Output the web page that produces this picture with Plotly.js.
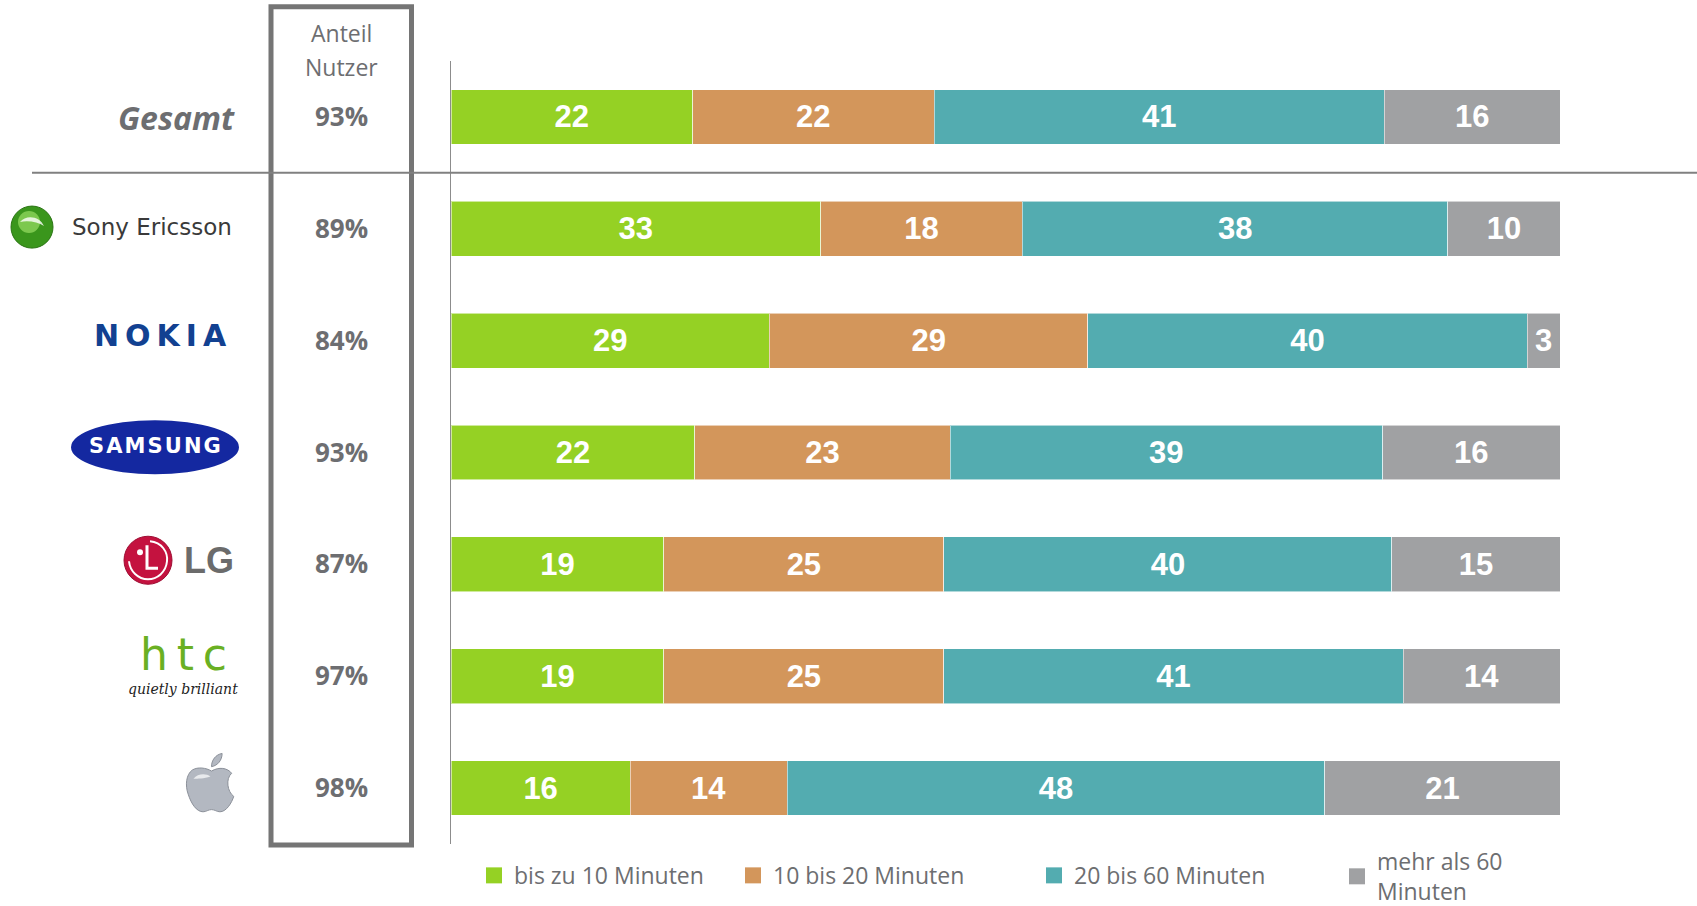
<!DOCTYPE html>
<html>
<head>
<meta charset="utf-8">
<script src="https://cdn.plot.ly/plotly-3.0.1.min.js"></script>
<style>html,body{margin:0;padding:0;background:#fff;}#chart{width:1697px;height:906px;}</style>
</head>
<body>
<div id="chart"></div>
<script>
// ---- data ----
const categories = ['Gesamt', 'Sony Ericsson', 'Nokia', 'Samsung', 'LG', 'HTC', 'Apple'];
const seriesNames = ['bis zu 10 Minuten', '10 bis 20 Minuten', '20 bis 60 Minuten', 'mehr als 60<br>Minuten'];
const bis10 = [22, 33, 29, 22, 19, 19, 16];
const bis20 = [22, 18, 29, 23, 25, 25, 14];
const bis60 = [41, 38, 40, 39, 40, 41, 48];
const mehr60 = [16, 10, 3, 16, 15, 14, 21];
const anteilNutzer = [93, 89, 84, 93, 87, 97, 98];
const seriesColors = ['#95d124', '#d3965b', '#53acb0', '#a0a1a3'];

// ---- layout geometry (pixels) ----
const FW = 1697, FH = 906;
const ML = 451, MR = 137, MT = 61, MB = 62.4;
const PW = FW - ML - MR, PH = FH - MT - MB;
const px = x => (x - ML) / PW;
const py = y => (MT + PH - y) / PH;
const gray = '#6d6e71';

const seriesData = [bis10, bis20, bis60, mehr60];
const traces = [];
seriesData.forEach((vals, i) => {
  traces.push({
    type: 'bar', orientation: 'h',
    y: categories, x: vals,
    text: vals.map(String),
    textposition: 'inside', insidetextanchor: 'middle', textangle: 0,
    constraintext: 'none',
    textfont: {family: 'Liberation Sans, Arial, sans-serif', size: 31, color: '#ffffff', weight: 'bold'},
    marker: {color: seriesColors[i], line: {color: 'rgba(255,255,255,0.55)', width: 1}},
    name: seriesNames[i], showlegend: false, hoverinfo: 'skip'
  });
});
// legend entries (one legend per entry to match their spacing)
const legendIds = ['legend', 'legend2', 'legend3', 'legend4'];
seriesNames.forEach((n, i) => {
  traces.push({
    type: 'scatter', mode: 'markers', x: [null], y: [null],
    name: n, legend: legendIds[i], showlegend: true,
    marker: {symbol: 'square', size: 16, color: seriesColors[i]}
  });
});

const annotations = [];
const shapes = [];
function ann(text, x, y, opts) {
  annotations.push(Object.assign({text: text, x: px(x), y: py(y), xref: 'paper', yref: 'paper',
    showarrow: false, xanchor: 'center', yanchor: 'middle'}, opts || {}));
}
function P(x, y) { return px(x).toFixed(5) + ',' + py(y).toFixed(5); }

// Column "Anteil Nutzer"
ann('Anteil', 341, 33, {font: {family: 'Open Sans', size: 23, color: gray}});
ann('Nutzer', 341, 67, {font: {family: 'Open Sans', size: 23, color: gray}});
anteilNutzer.forEach((v, i) => {
  annotations.push({text: v + '%', x: px(341), xref: 'paper', y: i, yref: 'y', yshift: 1,
    showarrow: false, xanchor: 'center', yanchor: 'middle',
    font: {family: 'Open Sans', size: 26, color: gray, weight: 'bold'}});
});
shapes.push({type: 'rect', xref: 'paper', yref: 'paper', x0: px(271), x1: px(411.5), y0: py(844.5), y1: py(6.7),
  line: {color: '#757575', width: 5}, fillcolor: 'rgba(0,0,0,0)'});
// separator line between Gesamt and brands
shapes.push({type: 'line', xref: 'paper', yref: 'y', x0: px(32), x1: px(FW), y0: 0.5, y1: 0.5,
  line: {color: '#808080', width: 2}});

// Category labels
ann('<i>Gesamt</i>', 237, 117, {xanchor: 'right', font: {family: 'Open Sans', size: 32, color: gray, weight: 'bold'}});

// Sony Ericsson
shapes.push({type: 'circle', xref: 'paper', yref: 'paper', x0: px(11), x1: px(53), y0: py(248), y1: py(206),
  fillcolor: '#3a961c', line: {color: '#2b7514', width: 1}});
shapes.push({type: 'circle', xref: 'paper', yref: 'paper', x0: px(18), x1: px(40), y0: py(233), y1: py(211),
  fillcolor: '#9fe36a', line: {width: 0}, opacity: 0.65});
shapes.push({type: 'path', xref: 'paper', yref: 'paper',
  path: 'M' + P(20, 222) + ' C' + P(26, 214) + ' ' + P(40, 216) + ' ' + P(44, 226) + ' C' + P(38, 222) + ' ' + P(28, 220) + ' ' + P(20, 222) + ' Z',
  fillcolor: 'rgba(255,255,255,0.8)', line: {width: 0}});
ann('Sony Ericsson', 70, 227, {xanchor: 'left', font: {family: 'DejaVu Sans', size: 23, color: '#3a3a3a'}});

// Nokia
ann('N\u2009O\u2009K\u2009I\u2009A', 229, 335, {xanchor: 'right', font: {family: 'DejaVu Sans', size: 30, color: '#124191', weight: 'bold'}});

// Samsung
shapes.push({type: 'circle', xref: 'paper', yref: 'paper', x0: px(71), x1: px(239), y0: py(474), y1: py(420),
  fillcolor: '#1428a0', line: {width: 0}});
ann('S\u200AA\u200AM\u200AS\u200AU\u200AN\u200AG', 155, 446, {font: {family: 'DejaVu Sans', size: 21, color: '#ffffff', weight: 'bold'}});

// LG
shapes.push({type: 'circle', xref: 'paper', yref: 'paper', x0: px(124), x1: px(172), y0: py(584), y1: py(536),
  fillcolor: '#c4123f', line: {color: '#9e0e33', width: 1}});
shapes.push({type: 'circle', xref: 'paper', yref: 'paper', x0: px(137), x1: px(143), y0: py(555), y1: py(549),
  fillcolor: '#ffffff', line: {width: 0}});
shapes.push({type: 'path', xref: 'paper', yref: 'paper',
  path: 'M' + P(147, 545) + ' L' + P(147, 568) + ' L' + P(158, 568),
  line: {color: '#ffffff', width: 3}});
shapes.push({type: 'path', xref: 'paper', yref: 'paper',
  path: 'M' + P(150, 541) + ' C' + P(162, 542) + ' ' + P(168, 552) + ' ' + P(167, 561) + ' C' + P(166, 572) + ' ' + P(157, 579) + ' ' + P(148, 579) + ' C' + P(138, 579) + ' ' + P(130, 571) + ' ' + P(129, 561),
  line: {color: '#ffffff', width: 2}});
ann('LG', 182, 560, {xanchor: 'left', font: {family: 'Liberation Sans', size: 36, color: '#6b6b6b', weight: 'bold'}});

// HTC
ann('h\u2009t\u2009c', 183, 654, {font: {family: 'DejaVu Sans', size: 44, color: '#6ab023'}});
ann('<i>quietly brilliant</i>', 183, 689, {font: {family: 'DejaVu Serif', size: 14, color: '#222222'}});

// Apple
const ax0 = 185, ay0 = 752, sx = 1.06, sy = 1.1;
const A = (x, y) => P(ax0 + x * sx, ay0 + y * sy);
const applePath = 'M' + A(25, 17) +
  ' C' + A(20, 14) + ' ' + A(12, 13) + ' ' + A(7, 16) +
  ' C' + A(1, 20) + ' ' + A(0, 30) + ' ' + A(3, 38) +
  ' C' + A(6, 47) + ' ' + A(11, 54) + ' ' + A(17, 54) +
  ' C' + A(20, 54) + ' ' + A(22, 52) + ' ' + A(25, 52) +
  ' C' + A(28, 52) + ' ' + A(30, 54) + ' ' + A(33, 54) +
  ' C' + A(39, 54) + ' ' + A(44, 46) + ' ' + A(46, 40) +
  ' C' + A(40, 36) + ' ' + A(38, 24) + ' ' + A(44, 19) +
  ' C' + A(40, 14) + ' ' + A(32, 13) + ' ' + A(25, 17) + ' Z';
const leafPath = 'M' + A(25, 13) + ' C' + A(25, 7) + ' ' + A(29, 2) + ' ' + A(35, 1) +
  ' C' + A(35, 7) + ' ' + A(31, 12) + ' ' + A(25, 13) + ' Z';
shapes.push({type: 'path', xref: 'paper', yref: 'paper', path: applePath, fillcolor: '#b3b8c1', line: {color: '#8b9099', width: 1}});
shapes.push({type: 'path', xref: 'paper', yref: 'paper', path: leafPath, fillcolor: '#b3b8c1', line: {color: '#8b9099', width: 1}});
shapes.push({type: 'path', xref: 'paper', yref: 'paper',
  path: 'M' + A(8, 24) + ' C' + A(12, 19) + ' ' + A(20, 19) + ' ' + A(24, 22) + ' C' + A(18, 24) + ' ' + A(12, 24) + ' ' + A(8, 24) + ' Z',
  fillcolor: 'rgba(255,255,255,0.7)', line: {width: 0}});

const legendFont = {family: 'Open Sans', size: 23, color: gray};
const legendX = [474, 733, 1034, 1337];
const legendY = [875, 875, 875, 876];
const layout = {
  width: FW, height: FH,
  margin: {l: ML, r: MR, t: MT, b: MB, autoexpand: false},
  paper_bgcolor: '#ffffff', plot_bgcolor: '#ffffff',
  barmode: 'stack', barnorm: 'percent', bargap: 0.51,
  xaxis: {range: [0, 100], visible: false, fixedrange: true},
  yaxis: {type: 'category', range: [6.5, -0.5], showticklabels: false, ticks: '',
    showgrid: false, zeroline: false, showline: true, linecolor: '#8c8c8c', linewidth: 1.5, fixedrange: true},
  annotations: annotations,
  shapes: shapes,
  showlegend: true
};
legendIds.forEach((id, i) => {
  layout[id] = {x: px(legendX[i]), y: py(legendY[i]), xanchor: 'left', yanchor: 'middle', valign: 'middle',
    orientation: 'h', bgcolor: 'rgba(0,0,0,0)', borderwidth: 0, font: legendFont};
});

Plotly.newPlot('chart', traces, layout, {displayModeBar: false, staticPlot: true});
</script>
</body>
</html>
